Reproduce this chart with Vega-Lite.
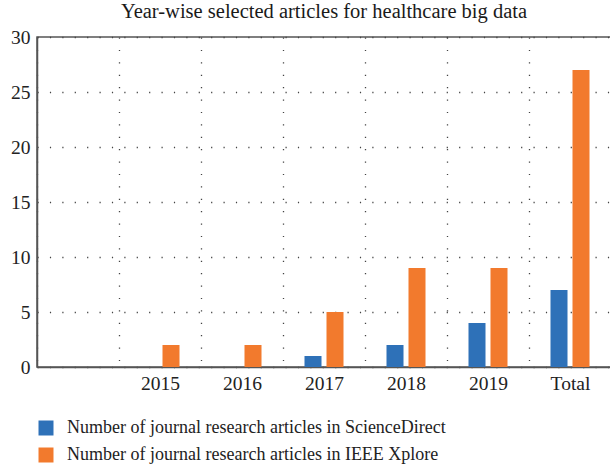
{
  "$schema": "https://vega.github.io/schema/vega-lite/v6.json",
  "autosize": "none",
  "width": 574,
  "height": 330,
  "padding": {"left": 37, "top": 37, "right": 0, "bottom": 98},
  "background": "white",
  "title": {
    "text": "Year-wise selected articles for healthcare big data",
    "font": "Liberation Serif",
    "fontSize": 20.5,
    "fontWeight": "normal",
    "color": "#1a1a1a",
    "anchor": "middle",
    "frame": "group",
    "offset": 5
  },
  "config": {
    "view": {"stroke": "#555555", "strokeWidth": 1.5},
    "axis": {
      "labelFont": "Liberation Serif",
      "labelFontSize": 19.5,
      "labelColor": "#222222",
      "domainColor": "#555555",
      "domainWidth": 1.5,
      "gridColor": "#444444",
      "gridDash": [1.2, 11.2],
      "gridWidth": 1.3,
      "ticks": false,
      "title": null
    }
  },
  "data": {
    "values": [
      {"year": "2015", "source": "Number of journal research articles in ScienceDirect", "count": 0},
      {"year": "2015", "source": "Number of journal research articles in IEEE Xplore", "count": 2},
      {"year": "2016", "source": "Number of journal research articles in ScienceDirect", "count": 0},
      {"year": "2016", "source": "Number of journal research articles in IEEE Xplore", "count": 2},
      {"year": "2017", "source": "Number of journal research articles in ScienceDirect", "count": 1},
      {"year": "2017", "source": "Number of journal research articles in IEEE Xplore", "count": 5},
      {"year": "2018", "source": "Number of journal research articles in ScienceDirect", "count": 2},
      {"year": "2018", "source": "Number of journal research articles in IEEE Xplore", "count": 9},
      {"year": "2019", "source": "Number of journal research articles in ScienceDirect", "count": 4},
      {"year": "2019", "source": "Number of journal research articles in IEEE Xplore", "count": 9},
      {"year": "Total", "source": "Number of journal research articles in ScienceDirect", "count": 7},
      {"year": "Total", "source": "Number of journal research articles in IEEE Xplore", "count": 27}
    ]
  },
  "mark": {"type": "bar"},
  "encoding": {
    "x": {
      "field": "year",
      "type": "nominal",
      "scale": {"domain": [" ", "2015", "2016", "2017", "2018", "2019", "Total"], "paddingInner": 0, "paddingOuter": 0},
      "axis": {"labelAngle": 0, "tickBand": "extent", "grid": true, "labelPadding": 7}
    },
    "xOffset": {
      "field": "source",
      "type": "nominal",
      "scale": {
        "domain": ["Number of journal research articles in ScienceDirect", "Number of journal research articles in IEEE Xplore"],
        "paddingInner": 0.227,
        "paddingOuter": 0.977
      }
    },
    "y": {
      "field": "count",
      "type": "quantitative",
      "scale": {"domain": [0, 30], "nice": false},
      "axis": {"values": [0, 5, 10, 15, 20, 25, 30], "grid": true, "labelPadding": 7}
    },
    "color": {
      "field": "source",
      "type": "nominal",
      "scale": {
        "domain": ["Number of journal research articles in ScienceDirect", "Number of journal research articles in IEEE Xplore"],
        "range": ["#2e71b8", "#f27a2d"]
      },
      "legend": {
        "orient": "none",
        "legendX": 0,
        "legendY": 382,
        "title": null,
        "symbolType": "square",
        "symbolSize": 225,
        "symbolStrokeWidth": 0,
        "labelFont": "Liberation Serif",
        "labelFontSize": 18,
        "labelColor": "#222222",
        "labelOffset": 12,
        "rowPadding": 9,
        "labelLimit": 600
      }
    }
  }
}
